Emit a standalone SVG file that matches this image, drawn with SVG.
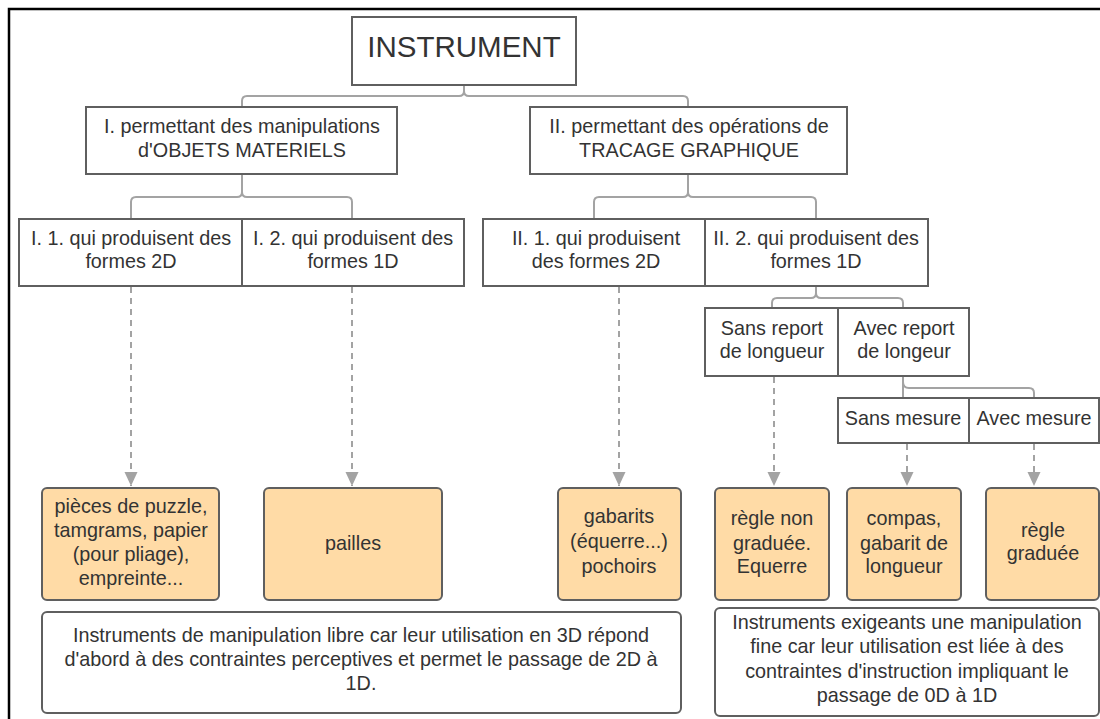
<svg xmlns="http://www.w3.org/2000/svg" width="1100" height="719" viewBox="0 0 1100 719">
<defs>
<style>
text{font-family:"Liberation Sans",Arial,sans-serif;fill:#333;text-anchor:middle;font-size:19.8px}
.box{fill:#fff;stroke:#5f5f5f;stroke-width:2}
.obox{fill:#FFDBA6;stroke:#5f5f5f;stroke-width:2}
.wbox{fill:#fff;stroke:#5f5f5f;stroke-width:2}
.conn{fill:none;stroke:#a3a3a3;stroke-width:2}
.dash{fill:none;stroke:#a3a3a3;stroke-width:2;stroke-dasharray:6 5}
</style>
<marker id="ah" markerUnits="userSpaceOnUse" markerWidth="14" markerHeight="14" viewBox="0 0 14 14" refX="14" refY="7" orient="auto">
<path d="M0,0.5 L14,7 L0,13.5 z" fill="#a3a3a3"/>
</marker>
</defs>
<rect width="1100" height="719" fill="#fff"/>
<rect x="9" y="9" width="1110" height="730" fill="none" stroke="#000" stroke-width="2.5"/>

<g id="connectors">
<path class="conn" d="M464,85 V91 Q464,96 459,96 H247 Q242,96 242,101 V107 M464,91 Q464,96 469,96 H683 Q688,96 688,101 V107"/>
<path class="conn" d="M242,174 V192 Q242,197 237,197 H136 Q131,197 131,202 V219 M242,192 Q242,197 247,197 H347 Q352,197 352,202 V219"/>
<path class="conn" d="M688,174 V192 Q688,197 683,197 H599 Q594,197 594,202 V219 M688,192 Q688,197 693,197 H811 Q816,197 816,202 V219"/>
<path class="conn" d="M816,286 V293 Q816,298 811,298 H777 Q772,298 772,303 V308 M816,293 Q816,298 821,298 H898 Q903,298 903,303 V308"/>
<path class="conn" d="M903,376 V398 M903,382 Q903,388 909,388 H1029 Q1034,388 1034,393 V398"/>
<line class="dash" x1="131" y1="287" x2="131" y2="486" marker-end="url(#ah)"/>
<line class="dash" x1="352" y1="287" x2="352" y2="486" marker-end="url(#ah)"/>
<line class="dash" x1="619" y1="287" x2="619" y2="486" marker-end="url(#ah)"/>
<line class="dash" x1="774" y1="377" x2="774" y2="486" marker-end="url(#ah)"/>
<line class="dash" x1="907" y1="444" x2="907" y2="486" marker-end="url(#ah)"/>
<line class="dash" x1="1034" y1="444" x2="1034" y2="486" marker-end="url(#ah)"/>
</g>

<g id="instrument">
<rect class="box" x="352" y="17" width="224" height="68"/>
<text x="464" y="57" style="font-size:29.5px">INSTRUMENT</text>
</g>
<g id="n-I">
<rect class="box" x="86" y="107" width="311" height="67"/>
<text x="242" y="133">I. permettant des manipulations</text>
<text x="242" y="157">d'OBJETS MATERIELS</text>
</g>
<g id="n-II">
<rect class="box" x="530" y="107" width="317" height="67"/>
<text x="689" y="133">II. permettant des opérations de</text>
<text x="689" y="157">TRACAGE GRAPHIQUE</text>
</g>
<g id="n-I1">
<rect class="box" x="19" y="219" width="223" height="67"/>
<text x="131" y="245">I. 1. qui produisent des</text>
<text x="131" y="268">formes 2D</text>
</g>
<g id="n-I2">
<rect class="box" x="242" y="219" width="222" height="67"/>
<text x="353" y="245">I. 2. qui produisent des</text>
<text x="353" y="268">formes 1D</text>
</g>
<g id="n-II1">
<rect class="box" x="483" y="219" width="222" height="67"/>
<text x="596" y="245">II. 1. qui produisent</text>
<text x="596" y="268">des formes 2D</text>
</g>
<g id="n-II2">
<rect class="box" x="705" y="219" width="223" height="67"/>
<text x="816" y="245">II. 2. qui produisent des</text>
<text x="816" y="268">formes 1D</text>
</g>
<g id="n-sansreport">
<rect class="box" x="705" y="308" width="133" height="68"/>
<text x="772" y="335">Sans report</text>
<text x="772" y="358">de longueur</text>
</g>
<g id="n-avecreport">
<rect class="box" x="838" y="308" width="131" height="68"/>
<text x="904" y="335">Avec report</text>
<text x="904" y="358">de longeur</text>
</g>
<g id="n-sansmesure">
<rect class="box" x="838" y="398" width="131" height="45"/>
<text x="903" y="425">Sans mesure</text>
</g>
<g id="n-avecmesure">
<rect class="box" x="969" y="398" width="130" height="45"/>
<text x="1034" y="425">Avec mesure</text>
</g>

<g id="o-pieces">
<rect class="obox" x="42" y="488" width="177" height="112" rx="5"/>
<text x="131" y="513">pièces de puzzle,</text>
<text x="131" y="537">tamgrams, papier</text>
<text x="131" y="561">(pour pliage),</text>
<text x="131" y="585">empreinte...</text>
</g>
<g id="o-pailles">
<rect class="obox" x="264" y="488" width="178" height="112" rx="5"/>
<text x="353" y="550">pailles</text>
</g>
<g id="o-gabarits">
<rect class="obox" x="558" y="488" width="123" height="112" rx="5"/>
<text x="619" y="523">gabarits</text>
<text x="619" y="548">(équerre...)</text>
<text x="619" y="573">pochoirs</text>
</g>
<g id="o-reglenon">
<rect class="obox" x="715" y="488" width="114" height="112" rx="5"/>
<text x="772" y="525">règle non</text>
<text x="772" y="550">graduée.</text>
<text x="772" y="573">Equerre</text>
</g>
<g id="o-compas">
<rect class="obox" x="847" y="488" width="114" height="112" rx="5"/>
<text x="904" y="525">compas,</text>
<text x="904" y="550">gabarit de</text>
<text x="904" y="573">longueur</text>
</g>
<g id="o-reglegrad">
<rect class="obox" x="986" y="488" width="113" height="112" rx="5"/>
<text x="1043" y="537">règle</text>
<text x="1043" y="560">graduée</text>
</g>

<g id="note-left">
<rect class="wbox" x="42" y="612" width="639" height="101" rx="5"/>
<text x="361" y="642">Instruments de manipulation libre car leur utilisation en 3D répond</text>
<text x="361" y="666">d'abord à des contraintes perceptives et permet le passage de 2D à</text>
<text x="361" y="690">1D.</text>
</g>
<g id="note-right">
<rect class="wbox" x="715" y="608" width="384" height="108" rx="5"/>
<text x="907" y="629">Instruments exigeants une manipulation</text>
<text x="907" y="653">fine car leur utilisation est liée à des</text>
<text x="907" y="678">contraintes d'instruction impliquant le</text>
<text x="907" y="702">passage de 0D à 1D</text>
</g>
</svg>
